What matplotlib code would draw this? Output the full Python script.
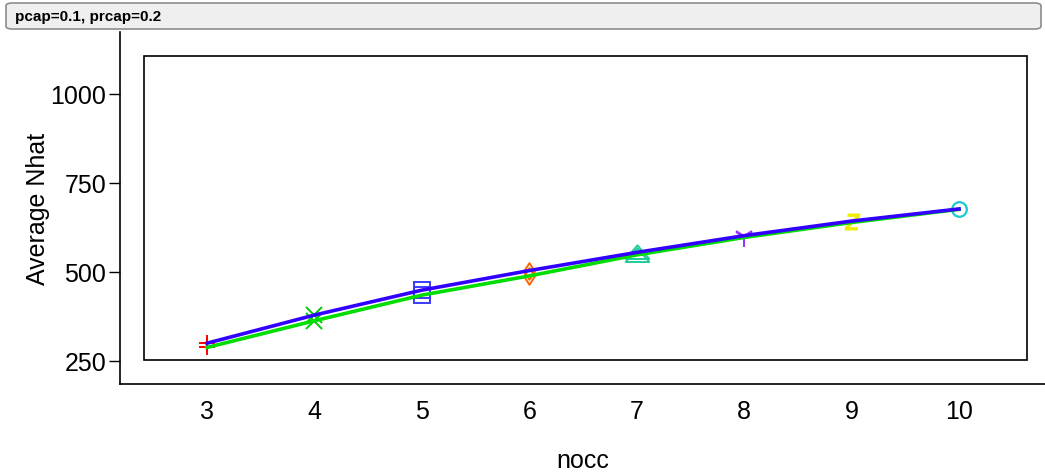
import matplotlib
matplotlib.use("Agg")
import matplotlib.pyplot as plt
from matplotlib.patches import Rectangle, FancyBboxPatch
from matplotlib.path import Path

plt.rcParams['font.family'] = ['Liberation Sans', 'DejaVu Sans']

nocc = [3, 4, 5, 6, 7, 8, 9, 10]
nhat_blue = [300, 379, 449, 504, 555, 602, 643, 677]
nhat_green = [288, 363, 435, 489, 548, 597, 639, 676]
marker_colors = ['#ff0000', '#00cc00', '#3a3aff', '#ff6600',
                 '#1fcc99', '#9933ff', '#eeee00', '#1ecbd0']
yticks = [250, 500, 750, 1000]
strip_label = 'pcap=0.1, prcap=0.2'

# wide flat triangle and narrow diamond, like the original symbols
tri = Path([(-1, -0.55), (1, -0.55), (0, 0.6), (-1, -0.55)],
           [Path.MOVETO, Path.LINETO, Path.LINETO, Path.CLOSEPOLY])
dia = Path([(0, 1), (0.65, 0), (0, -1), (-0.65, 0), (0, 1)],
           [Path.MOVETO, Path.LINETO, Path.LINETO, Path.LINETO, Path.CLOSEPOLY])
marker_shapes = ['+', 'x', 's', dia, tri, '1', '$Z$', 'o']
marker_sizes = [12, 12, 11, 12, 17, 15, 11, 10.5]
hollow = [False, False, True, True, True, False, False, True]

W, H = 1045, 477
fig = plt.figure(figsize=(W / 100, H / 100), dpi=100)

# outer axes (left / bottom rules only), pixel box 120..1045 x 33..385
ax = fig.add_axes([120 / W, 1 - 385 / H, (1045 - 120) / W, (385 - 33) / H])
ax.set_xlim(2.19, 10.80)
ax.set_ylim(185.4, 1174)
for s in ['top', 'right']:
    ax.spines[s].set_visible(False)
ax.spines['left'].set_linewidth(1.2)
ax.spines['bottom'].set_linewidth(1.2)

ax.set_yticks(yticks)
ax.set_xticks(nocc)
ax.tick_params(axis='y', length=8, width=1, pad=2, labelsize=18)
ax.tick_params(axis='x', length=0, pad=11, labelsize=18)
ax.set_ylabel('Average Nhat', fontsize=18, labelpad=0)
ax.set_xlabel('nocc', fontsize=18, labelpad=18)

# inner data frame
ax.add_patch(Rectangle((2.41, 252.8), 10.63 - 2.41, 1106.7 - 252.8,
                       fill=False, edgecolor='black', linewidth=1.2, zorder=1))

for i, x in enumerate(nocc):
    shape = marker_shapes[i]
    for v in (nhat_green[i], nhat_blue[i]):
        ax.plot(x, v, marker=shape, color=marker_colors[i],
                markersize=marker_sizes[i],
                markerfacecolor='none' if hollow[i] else marker_colors[i],
                markeredgewidth=0.4 if shape == '$Z$' else 1.4,
                linestyle='none', zorder=2)

ax.plot(nocc, nhat_green, color='#00dd00', linewidth=2.6, zorder=3)
ax.plot(nocc, nhat_blue, color='#3300ff', linewidth=2.6, zorder=4)

# strip at top
strip = FancyBboxPatch((6 / W, 1 - 30 / H), (1041 - 6) / W, (30 - 4) / H,
                       boxstyle='round,pad=0,rounding_size=0.006',
                       transform=fig.transFigure, facecolor='#efefef',
                       edgecolor='#8c8c8c', linewidth=1.2)
fig.patches.append(strip)
fig.text(15 / W, 1 - 17 / H, strip_label, fontsize=11, fontweight='bold',
         va='center', ha='left')

fig.savefig('out.png', dpi=100)
